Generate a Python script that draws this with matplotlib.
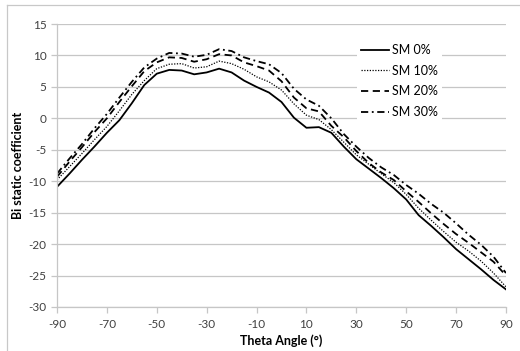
import numpy as np
import matplotlib
matplotlib.use("Agg")
import matplotlib.pyplot as plt
from matplotlib.lines import Line2D

plt.rcParams['font.family'] = ['Lato', 'DejaVu Sans']
plt.rcParams['axes.unicode_minus'] = False

# --- data ---
theta = list(range(-90, 91, 5))

sm0 = [-10.9, -8.8, -6.6, -4.5, -2.3, -0.3, 2.4, 5.3, 7.1, 7.7, 7.6, 7.0, 7.3,
       7.9, 7.3, 6.0, 5.0, 4.1, 2.6, 0.1, -1.5, -1.4, -2.3, -4.5, -6.5, -8.0,
       -9.5, -11.1, -12.9, -15.4, -17.1, -18.9, -20.8, -22.4, -24.0, -25.7, -27.2]
sm10 = [-9.8, -7.7, -5.6, -3.4, -1.3, 1.2, 3.8, 6.0, 7.9, 8.6, 8.7, 8.0, 8.2,
        9.1, 8.7, 7.8, 6.6, 5.8, 4.5, 2.3, 0.5, -0.2, -1.8, -3.8, -5.8, -7.3,
        -8.8, -10.2, -12.1, -14.3, -16.2, -18.0, -19.7, -21.1, -22.7, -24.6, -26.8]
sm20 = [-9.3, -6.9, -4.6, -2.2, 0.0, 2.6, 5.1, 7.5, 8.9, 9.7, 9.6, 9.0, 9.4,
        10.2, 10.0, 8.9, 8.3, 7.6, 5.9, 3.3, 1.6, 1.1, -1.2, -3.0, -5.2, -7.1,
        -8.6, -9.8, -11.6, -13.3, -15.1, -16.8, -18.4, -19.8, -21.3, -22.8, -25.0]
sm30 = [-8.8, -6.4, -4.1, -1.6, 0.7, 3.3, 5.8, 8.1, 9.5, 10.4, 10.3, 9.8, 10.1,
        11.0, 10.7, 9.7, 9.1, 8.6, 7.2, 4.7, 3.0, 2.0, 0.0, -2.5, -4.5, -6.3,
        -7.8, -9.0, -10.6, -12.0, -13.6, -15.0, -16.7, -18.5, -20.1, -22.0, -24.6]

labels = ['SM 0%', 'SM 10%', 'SM 20%', 'SM 30%']
xticks = list(range(-90, 91, 20))
yticks = list(range(-30, 16, 5))

# --- figure ---
fig = plt.figure(figsize=(5.2, 3.51), dpi=100)
ax = fig.add_axes([0.1096, 0.1254, 0.8634, 0.8062])

grid_c = '#c6c6c6'
ax.plot(theta, sm0, color='black', lw=1.3, ls='-', label=labels[0])
ax.plot(theta, sm10, color='black', lw=0.9, ls=(0, (1, 1.2)), label=labels[1])
ax.plot(theta, sm20, color='black', lw=1.3, ls=(0, (4, 2.5)), label=labels[2])
ax.plot(theta, sm30, color='black', lw=1.3, ls=(0, (4, 2, 1, 2)), label=labels[3])

ax.set_xlim(-90, 90)
ax.set_ylim(-30, 15)
ax.set_xticks(xticks)
ax.set_yticks(yticks)
ax.yaxis.grid(True, color=grid_c, lw=0.9)
ax.set_axisbelow(True)

for s in ['top', 'right']:
    ax.spines[s].set_visible(False)
for s in ['left', 'bottom']:
    ax.spines[s].set_color(grid_c)
    ax.spines[s].set_linewidth(0.9)

ax.tick_params(axis='both', colors=grid_c, labelcolor='#404040',
               labelsize=8.5, length=4, width=0.9)
ax.tick_params(axis='x', pad=5)

ax.set_xlabel('Theta Angle (°)', fontsize=9, fontweight='bold', labelpad=3)
ax.set_ylabel('Bi static coefficient', fontsize=9, fontweight='bold', labelpad=3)

leg = ax.legend(loc='upper left', bbox_to_anchor=(0.655, 0.965), frameon=True,
                fontsize=9, handlelength=2.2, handletextpad=0.3,
                labelspacing=0.7, borderpad=0.3)
leg.get_frame().set_facecolor('white')
leg.get_frame().set_edgecolor('none')
leg.get_frame().set_alpha(1)

# outer chart border (left and top edges visible)
fig.add_artist(Line2D([7 / 520, 7 / 520], [0, 1 - 5 / 351], color='#c8c8c8',
                      lw=0.9, transform=fig.transFigure))
fig.add_artist(Line2D([7 / 520, 1], [1 - 5 / 351, 1 - 5 / 351], color='#c8c8c8',
                      lw=0.9, transform=fig.transFigure))

fig.savefig('out.png', dpi=100)
